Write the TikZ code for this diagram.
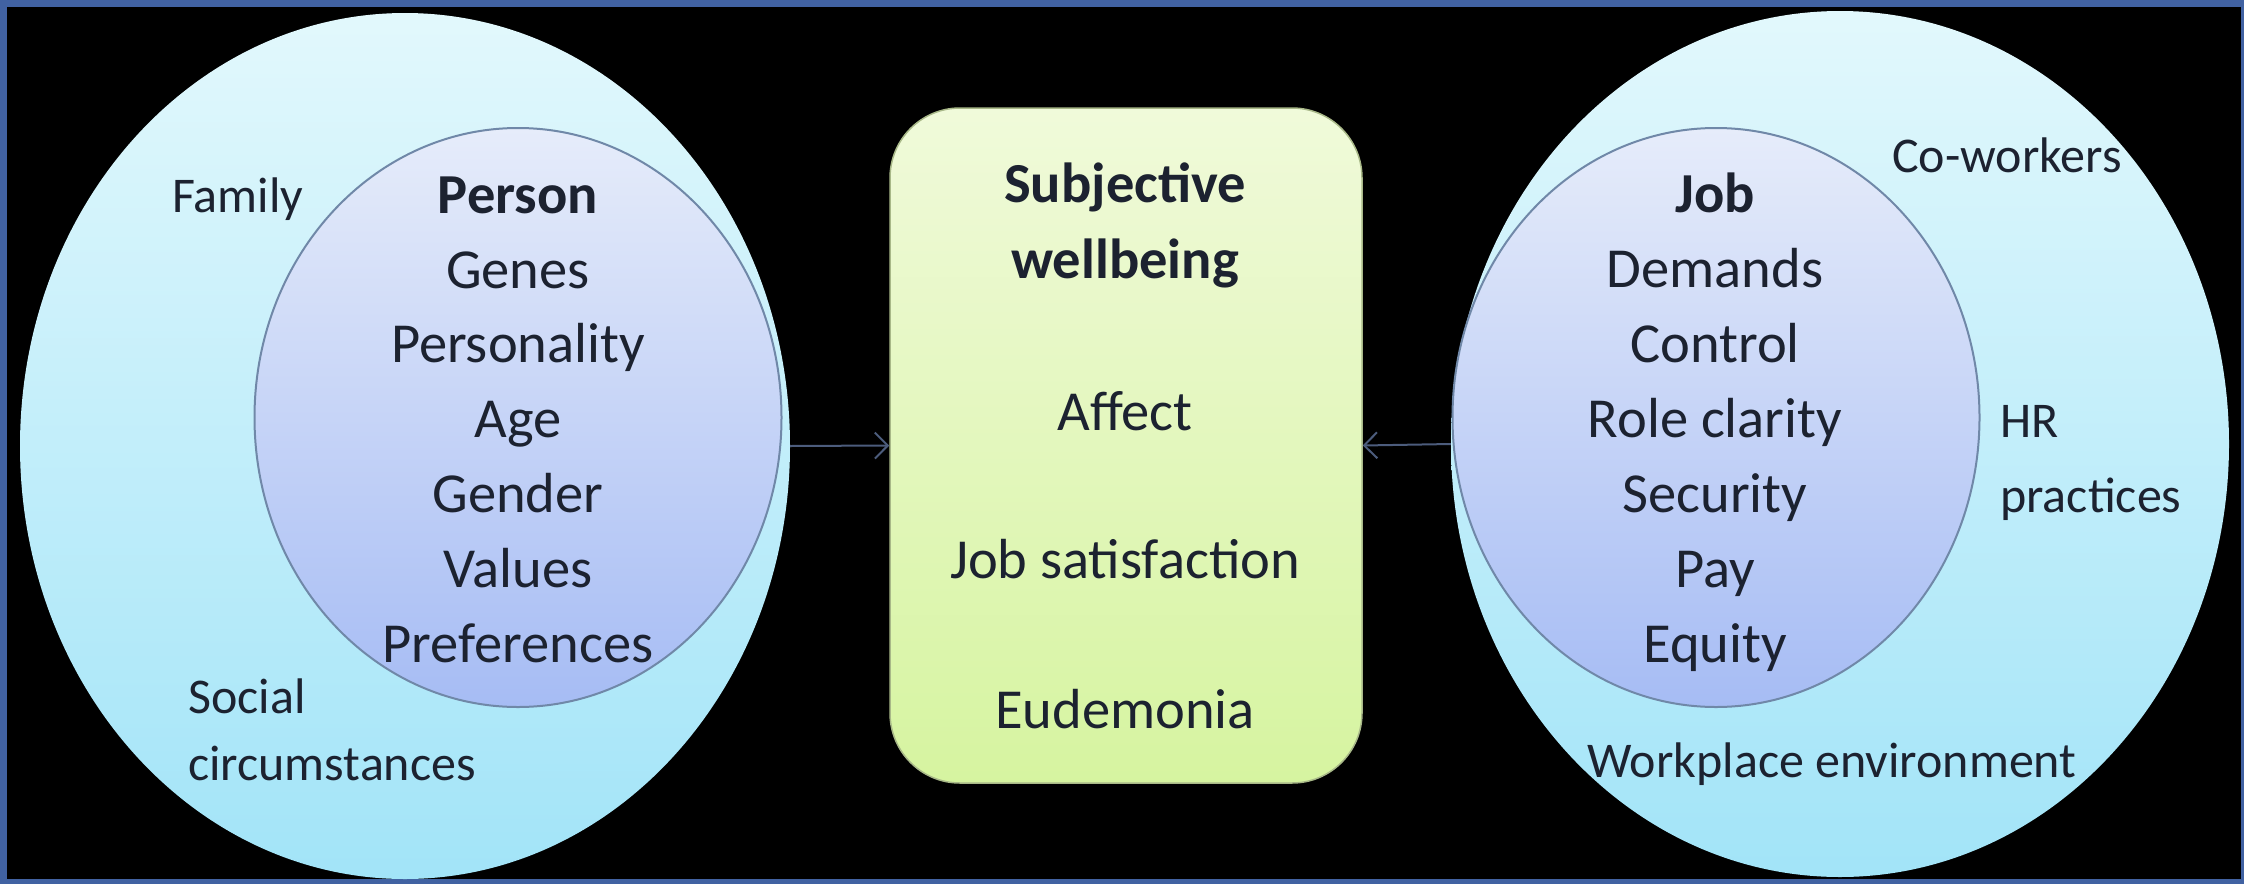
\documentclass[tikz,border=0pt]{standalone}
\usepackage{fontspec}
\setmainfont{Carlito}
\usepackage{tikz}
\usetikzlibrary{shapes.geometric,arrows.meta,positioning}
\definecolor{frameblue}{HTML}{4162A2}
\definecolor{outtop}{HTML}{E2F8FC}
\definecolor{outbot}{HTML}{A2E4F8}
\definecolor{intop}{HTML}{E6ECFA}
\definecolor{inbot}{HTML}{A6BCF4}
\definecolor{ringcol}{HTML}{7088A8}
\definecolor{boxtop}{HTML}{F0FADA}
\definecolor{boxbot}{HTML}{D6F4A0}
\definecolor{boxedge}{HTML}{A8B888}
\definecolor{arrowcol}{HTML}{4C5C7C}
\definecolor{ink}{HTML}{1C2230}

\begin{document}
\begin{tikzpicture}[x=1pt,y=-1pt,
  outer/.style={ellipse,inner sep=0,top color=outtop,bottom color=outbot},
  inner/.style={ellipse,inner sep=0,draw=ringcol,line width=2pt,top color=intop,bottom color=inbot},
  item/.style={anchor=base,inner sep=0,text=ink,font=\fontsize{56.5}{68}\selectfont},
  head/.style={item,font=\fontsize{56.5}{68}\selectfont\bfseries},
  ctx/.style={anchor=base west,inner sep=0,text=ink,font=\fontsize{50}{60}\selectfont},
  feed/.style={draw=arrowcol,line width=2pt,-{Straight Barb[length=13pt,width=26pt]}}
]
  \useasboundingbox (0,0) rectangle (2244,884);
  \fill[frameblue] (0,0) rectangle (2244,884);
  \fill[black] (7,7) rectangle (2241,879);

  % person side
  \node[outer,minimum width=770pt,minimum height=866pt] (outL) at (405,446) {};
  \node[inner,minimum width=527pt,minimum height=579pt] (inL) at (518,417.5) {};
  \node[ctx] (fam) at (172,212) {Family};
  \node[head] (pers) at (518,213) {Person};
  \node[item] (gen) at (518,288) {Genes};
  \node[item] (pty) at (518,362) {Personality};
  \node[item] (age) at (518,437) {Age};
  \node[item] (gdr) at (518,512) {Gender};
  \node[item] (val) at (518,587) {Values};
  \node[item] (pref) at (518,662) {Preferences};
  \node[ctx] (soc) at (188,713) {Social};
  \node[ctx] (circ) at (188,780) {circumstances};

  % job side
  \node[outer,minimum width=778pt,minimum height=866pt] (outR) at (1840,444) {};
  \node[inner,minimum width=527pt,minimum height=579pt] (inR) at (1716,417.5) {};
  \node[ctx] (cow) at (1892,172) {Co-workers};
  \node[head] (job) at (1715,212) {Job};
  \node[item] (dem) at (1715,287) {Demands};
  \node[item] (ctl) at (1715,362) {Control};
  \node[item] (rol) at (1715,437) {Role clarity};
  \node[item] (sec) at (1715,512) {Security};
  \node[item] (pay) at (1715,587) {Pay};
  \node[item] (eq) at (1715,662) {Equity};
  \node[ctx] (hr) at (2000,437) {HR};
  \node[ctx] (hrp) at (2000,512) {practices};
  \node[ctx,anchor=base] (wpe) at (1832,777) {Workplace environment};

  % wellbeing box
  \node[rectangle,rounded corners=70pt,minimum width=472pt,minimum height=675pt,
        draw=boxedge,line width=1.5pt,top color=boxtop,bottom color=boxbot] (sw) at (1126,445.5) {};
  \node[head] (subj) at (1125,202) {Subjective};
  \node[head] (wb) at (1125,278) {wellbeing};
  \node[item] (aff) at (1125,430) {Affect};
  \node[item] (jsat) at (1125,578) {Job satisfaction};
  \node[item] (eud) at (1125,728) {Eudemonia};

  \draw[feed] (outL.east) -- (sw.west);
  \draw[feed] (outR.west) -- (sw.east);
\end{tikzpicture}
\end{document}
